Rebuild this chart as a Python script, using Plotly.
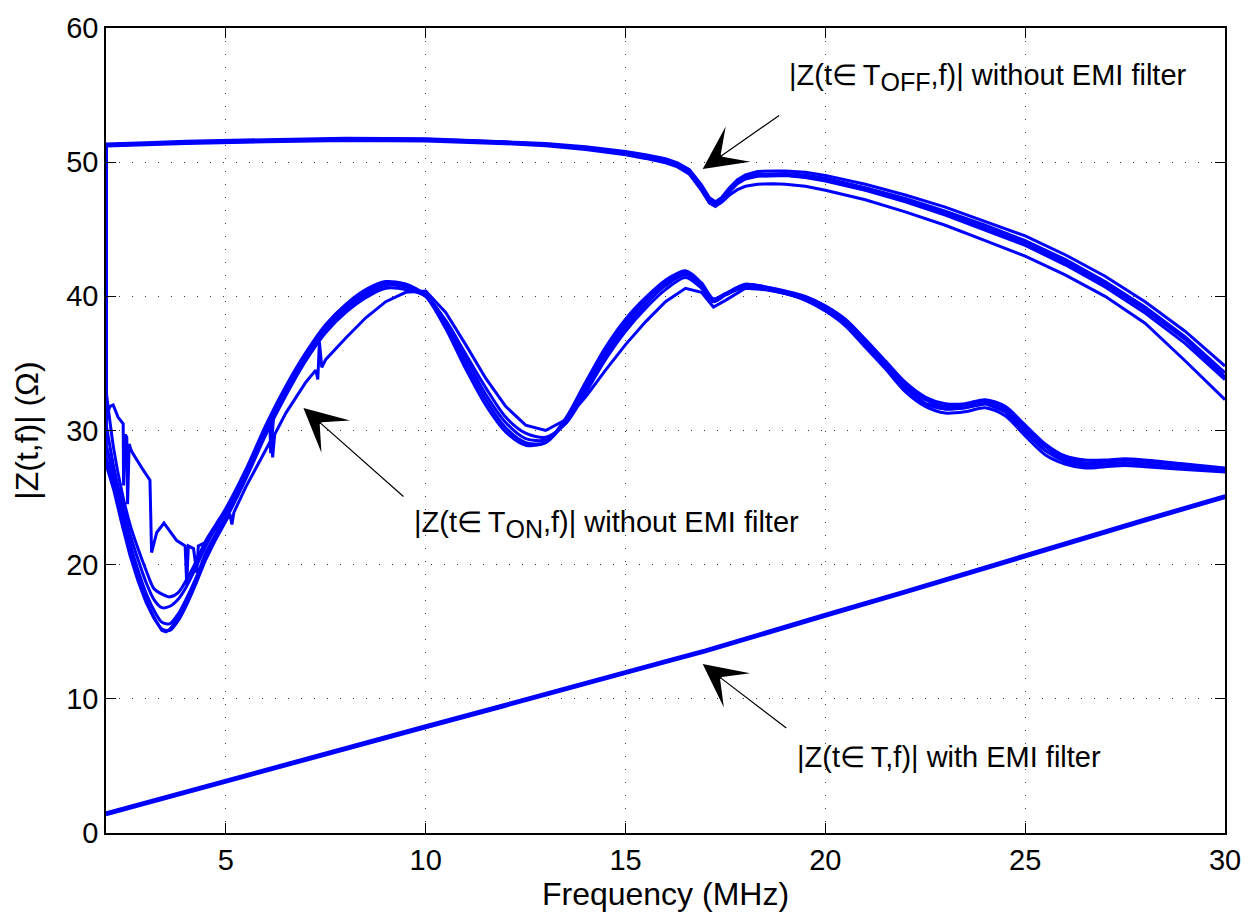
import plotly.graph_objects as go

# ---------------- data ----------------
# Impedance magnitude |Z(t,f)| in ohms versus frequency in MHz

# Switch-on interval traces (common frequency grid)
F_ON = [2.0, 2.2, 2.4, 2.6, 2.8, 3.0, 3.2, 3.4, 3.6, 3.8, 4.0, 4.25, 4.5, 4.75,
        5.0, 5.5, 6.0, 6.5, 7.0, 7.5, 8.0, 8.5, 9.0, 9.5, 10.0, 10.5, 11.0, 11.5, 12.0,
        12.5, 13.0, 13.5, 14.0, 14.5, 15.0, 15.5, 16.0, 16.5, 16.9, 17.2, 17.5, 18.0,
        18.5, 19.0, 19.5, 20.0, 20.5, 21.0, 21.5, 22.0, 22.5, 23.0, 23.5, 24.0, 24.5,
        25.0, 25.5, 26.0, 26.5, 27.0, 27.5, 28.0, 29.0, 30.0]

ON_1 = [33.0, 28.5, 25.4, 23.0, 21.2, 19.6, 18.2, 17.8, 17.6, 17.9, 18.8, 20.2,
        21.8, 23.0, 24.2, 27.1, 30.4, 33.3, 35.8, 37.9, 39.4, 40.5, 41.1, 40.9, 40.0,
        37.6, 34.6, 31.9, 29.9, 28.9, 29.1, 30.9, 33.6, 36.2, 38.3, 39.9, 41.2, 41.9,
        41.0, 39.8, 40.2, 40.9, 40.7, 40.4, 40.0, 39.3, 38.3, 36.8, 35.2, 33.6, 32.5,
        32.0, 32.0, 32.3, 31.8, 30.4, 29.0, 28.1, 27.8, 27.8, 27.9, 27.8, 27.5, 27.2]
ON_2 = [30.5, 27.2, 24.6, 22.3, 20.4, 18.7, 17.4, 16.8, 16.9, 17.4, 18.3, 19.8,
        21.4, 22.8, 24.0, 26.9, 30.2, 33.0, 35.6, 37.7, 39.2, 40.3, 41.0, 40.9, 40.1,
        37.9, 35.0, 32.3, 30.2, 29.1, 29.1, 30.7, 33.3, 35.9, 38.0, 39.7, 41.0, 41.8,
        40.9, 39.8, 40.2, 40.9, 40.7, 40.3, 39.9, 39.2, 38.1, 36.6, 35.0, 33.4, 32.3,
        31.8, 31.9, 32.2, 31.6, 30.2, 28.8, 27.9, 27.6, 27.7, 27.8, 27.7, 27.4, 27.1]
ON_3 = [29.0, 26.5, 23.9, 21.6, 19.6, 17.9, 16.6, 15.7, 15.6, 16.3, 17.4, 19.0,
        20.9, 22.3, 23.6, 26.6, 29.9, 32.8, 35.4, 37.5, 39.0, 40.1, 40.8, 40.7, 40.1,
        38.1, 35.4, 32.7, 30.6, 29.4, 29.3, 30.6, 33.0, 35.6, 37.7, 39.4, 40.8, 41.6,
        40.8, 39.7, 40.1, 40.8, 40.6, 40.2, 39.8, 39.0, 37.9, 36.4, 34.8, 33.2, 32.0,
        31.6, 31.7, 32.0, 31.4, 29.9, 28.5, 27.7, 27.4, 27.5, 27.6, 27.5, 27.2, 27.0]
ON_4 = [28.0, 26.0, 23.4, 21.0, 19.0, 17.4, 16.1, 15.2, 15.1, 15.8, 16.9, 18.6,
        20.6, 22.1, 23.4, 26.4, 29.7, 32.6, 35.2, 37.3, 38.8, 39.9, 40.6, 40.5, 40.0,
        38.2, 35.7, 33.2, 31.0, 29.8, 29.5, 30.5, 32.8, 35.3, 37.4, 39.1, 40.5, 41.4,
        40.6, 39.6, 40.1, 40.7, 40.5, 40.2, 39.7, 38.9, 37.8, 36.2, 34.6, 32.9, 31.8,
        31.3, 31.4, 31.7, 31.1, 29.6, 28.2, 27.5, 27.2, 27.3, 27.4, 27.3, 27.1, 26.9]

# Switch-on trace shifted towards higher frequency, with sampling glitches
F_ON5 = [2.0, 2.2, 2.4, 2.6, 2.8, 3.0, 3.2, 3.4, 3.5, 3.6, 3.8, 4.0, 4.25, 4.5,
         4.75, 5.0, 5.1, 5.15, 5.2, 5.5, 6.0, 6.15, 6.17, 6.22, 6.5, 7.0, 7.25, 7.3,
         7.34, 7.4, 7.45, 7.5, 8.0, 8.5, 9.0, 9.5, 10.0, 10.5, 11.0, 11.5, 12.0, 12.5,
         13.0, 13.5, 14.0, 14.5, 15.0, 15.5, 16.0, 16.5, 16.9, 17.2, 17.5, 18.0, 18.5,
         19.0, 19.5, 20.0, 20.5, 21.0, 21.5, 22.0, 22.5, 23.0, 23.5, 24.0, 24.5, 25.0,
         25.5, 26.0, 26.5, 27.0, 27.5, 28.0, 29.0, 30.0]
ON_5 = [27.5, 25.5, 23.0, 20.7, 18.8, 17.2, 16.0, 15.1, 15.0, 15.2, 16.0, 17.0,
        18.6, 20.4, 21.9, 23.2, 23.8, 23.0, 23.9, 25.8, 28.6, 29.4, 28.0, 29.7, 31.3,
        33.6, 34.5, 33.8, 36.6, 34.7, 35.0, 35.3, 36.9, 38.4, 39.6, 40.3, 40.4, 38.8,
        36.4, 33.9, 31.8, 30.4, 30.0, 30.8, 32.5, 34.5, 36.4, 38.1, 39.6, 40.6, 40.3,
        39.2, 39.7, 40.6, 40.5, 40.2, 39.8, 39.0, 37.9, 36.4, 34.8, 33.2, 32.0, 31.6,
        31.7, 32.0, 31.4, 29.9, 28.5, 27.7, 27.4, 27.5, 27.6, 27.5, 27.2, 27.0]

# Noisy switch-on trace at low frequency (joins the main bundle near 7 MHz)
F_ON6 = [2.0, 2.1, 2.18, 2.3, 2.43, 2.44, 2.48, 2.52, 2.54, 2.58, 2.62, 2.67,
         2.9, 3.1, 3.14, 3.27, 3.45, 3.58, 3.77, 3.98, 4.02, 4.06, 4.19, 4.27, 4.31,
         4.52, 4.75, 5.0, 5.5, 6.0, 6.1, 6.12, 6.2, 6.5, 7.0]
ON_6 = [31.0, 31.8, 31.9, 31.0, 30.5, 25.9, 29.7, 29.5, 24.5, 29.0, 28.6, 28.3,
        27.2, 26.3, 20.9, 22.4, 23.1, 22.6, 21.8, 21.4, 18.5, 21.4, 21.2, 19.4, 21.4,
        21.7, 22.7, 24.0, 26.9, 30.1, 30.6, 28.3, 31.2, 32.9, 35.6]

# Switch-off interval traces (the first sample sits low, then jumps up)
F_OFF = [2.0, 2.01, 3, 4, 6, 8, 10, 12, 13, 14, 15, 15.5, 16, 16.3, 16.6, 16.9, 17.1,
         17.25, 17.4, 17.6, 17.8, 18.0, 18.3, 18.7, 19.0, 19.5, 20, 21, 22, 23, 24, 25,
         26, 27, 28, 29, 30]
OFF_1 = [33.0, 51.35, 51.45, 51.55, 51.68, 51.78, 51.75, 51.55, 51.4, 51.15, 50.8, 50.55,
         50.25, 49.95, 49.45, 48.3, 47.35, 47.05, 47.35, 48.1, 48.7, 49.05, 49.3, 49.35,
         49.35, 49.25, 49.0, 48.35, 47.55, 46.65, 45.6, 44.5, 43.1, 41.5, 39.6, 37.4, 34.8]
OFF_2 = [30.5, 51.25, 51.35, 51.45, 51.58, 51.68, 51.65, 51.45, 51.3, 51.05, 50.65, 50.4,
         50.1, 49.8, 49.25, 48.05, 47.1, 46.85, 47.2, 47.95, 48.55, 48.9, 49.1, 49.15,
         49.15, 49.05, 48.8, 48.1, 47.3, 46.35, 45.3, 44.15, 42.75, 41.1, 39.2, 37.0, 34.3]
OFF_3 = [29.0, 51.2, 51.3, 51.4, 51.52, 51.62, 51.58, 51.38, 51.22, 50.95, 50.55, 50.28,
         49.95, 49.65, 49.1, 47.9, 46.95, 46.7, 47.05, 47.8, 48.4, 48.75, 48.95, 49.0,
         49.0, 48.85, 48.6, 47.9, 47.05, 46.05, 44.95, 43.8, 42.35, 40.7, 38.75, 36.5, 33.8]
OFF_4 = [28.0, 51.3, 51.4, 51.5, 51.62, 51.72, 51.7, 51.5, 51.34, 51.08, 50.7, 50.45,
         50.15, 49.85, 49.3, 48.1, 47.2, 46.9, 47.25, 47.9, 48.45, 48.8, 49.0, 49.05,
         49.05, 48.9, 48.65, 47.95, 47.15, 46.2, 45.1, 43.95, 42.55, 40.9, 39.0, 36.8, 34.0]
OFF_5 = [27.5, 51.3, 51.4, 51.5, 51.62, 51.72, 51.68, 51.48, 51.3, 51.02, 50.62, 50.35,
         50.0, 49.7, 49.15, 48.0, 47.0, 46.75, 47.0, 47.55, 47.95, 48.2, 48.35, 48.4,
         48.35, 48.2, 47.9, 47.2, 46.3, 45.3, 44.15, 43.0, 41.6, 40.0, 38.0, 35.2, 32.3]

# With EMI filter (whole period)
F_EMI = [2, 5, 8, 10, 12, 14, 16, 17, 18, 20, 22, 24, 26, 28, 30]
EMI_1 = [1.35, 3.8, 6.2, 7.85, 9.45, 11.1, 12.7, 13.5, 14.4, 16.15, 17.9, 19.7, 21.45, 23.25, 25.0]
EMI_2 = [1.5, 3.95, 6.35, 8.0, 9.6, 11.25, 12.85, 13.65, 14.55, 16.3, 18.05, 19.85, 21.6, 23.4, 25.15]

X_TICKS = [5, 10, 15, 20, 25, 30]
Y_TICKS = [0, 10, 20, 30, 40, 50, 60]

# ---------------- figure ----------------
BLUE = "#0000ff"
LW = 3.0
FONT = "Liberation Sans, Arial, Helvetica, sans-serif"

# (x, y, line shape)
series = [
    (F_OFF, OFF_1, "linear"), (F_OFF, OFF_2, "linear"), (F_OFF, OFF_3, "linear"),
    (F_OFF, OFF_4, "linear"), (F_OFF, OFF_5, "linear"),
    (F_ON, ON_1, "spline"), (F_ON, ON_2, "spline"), (F_ON, ON_3, "spline"),
    (F_ON, ON_4, "spline"), (F_ON5, ON_5, "linear"), (F_ON6, ON_6, "linear"),
    (F_EMI, EMI_1, "linear"), (F_EMI, EMI_2, "linear"),
]

fig = go.Figure()
for fx, zy, shape in series:
    fig.add_trace(go.Scatter(
        x=fx, y=zy, mode="lines", hoverinfo="skip",
        line=dict(color=BLUE, width=LW, shape=shape,
                  smoothing=0.8 if shape == "spline" else None),
    ))

axis_common = dict(
    showline=True, linecolor="black", linewidth=1.5, mirror="ticks",
    ticks="inside", ticklen=10, tickwidth=1.3, tickcolor="black",
    showgrid=True, gridcolor="#3a3a3a", gridwidth=1, griddash="1px,12px",
    zeroline=False, tickfont=dict(family=FONT, size=29, color="black"),
)

fig.update_xaxes(range=[2, 30], tickvals=X_TICKS, ticktext=[str(v) for v in X_TICKS],
                 title=dict(text="Frequency (MHz)", font=dict(family=FONT, size=32), standoff=2),
                 **axis_common)
fig.update_yaxes(range=[0, 60], tickvals=Y_TICKS, ticktext=[str(v) for v in Y_TICKS],
                 title=dict(text="|Z(t,f)| (\u03a9)", font=dict(family=FONT, size=32), standoff=18),
                 **axis_common)

ann_font = dict(family=FONT, size=29, color="black")
SUB = '<sub><span style="font-size:25px">{}</span></sub>'
arrow_style = dict(showarrow=True, arrowhead=3, arrowsize=6.0, arrowwidth=1.2,
                   arrowcolor="black", axref="x", ayref="y", text="", standoff=0)

annotations = [
    # T_OFF label
    dict(x=16.93, y=49.5, ax=18.88, ay=53.56, **arrow_style),
    dict(x=19.05, y=56.3, xref="x", yref="y", xanchor="left", yanchor="middle",
         showarrow=False, font=ann_font,
         text="|Z(t\u2208\u2009T" + SUB.format("OFF") + ",f)| without EMI filter"),
    # T_ON label
    dict(x=6.94, y=31.68, ax=9.48, ay=24.98, **arrow_style),
    dict(x=9.66, y=23.0, xref="x", yref="y", xanchor="left", yanchor="middle",
         showarrow=False, font=ann_font,
         text="|Z(t\u2208\u2009T" + SUB.format("ON") + ",f)| without EMI filter"),
    # with EMI filter label
    dict(x=16.93, y=12.59, ax=19.06, ay=7.74, **arrow_style),
    dict(x=19.25, y=5.69, xref="x", yref="y", xanchor="left", yanchor="middle",
         showarrow=False, font=ann_font,
         text="|Z(t\u2208\u2009T,f)| with EMI filter"),
]

fig.update_layout(
    width=1253, height=915,
    margin=dict(l=106, r=28, t=21, b=82),
    paper_bgcolor="white", plot_bgcolor="white",
    showlegend=False,
    font=dict(family=FONT, size=29, color="black"),
    annotations=annotations,
)

fig.write_html("out.html")
